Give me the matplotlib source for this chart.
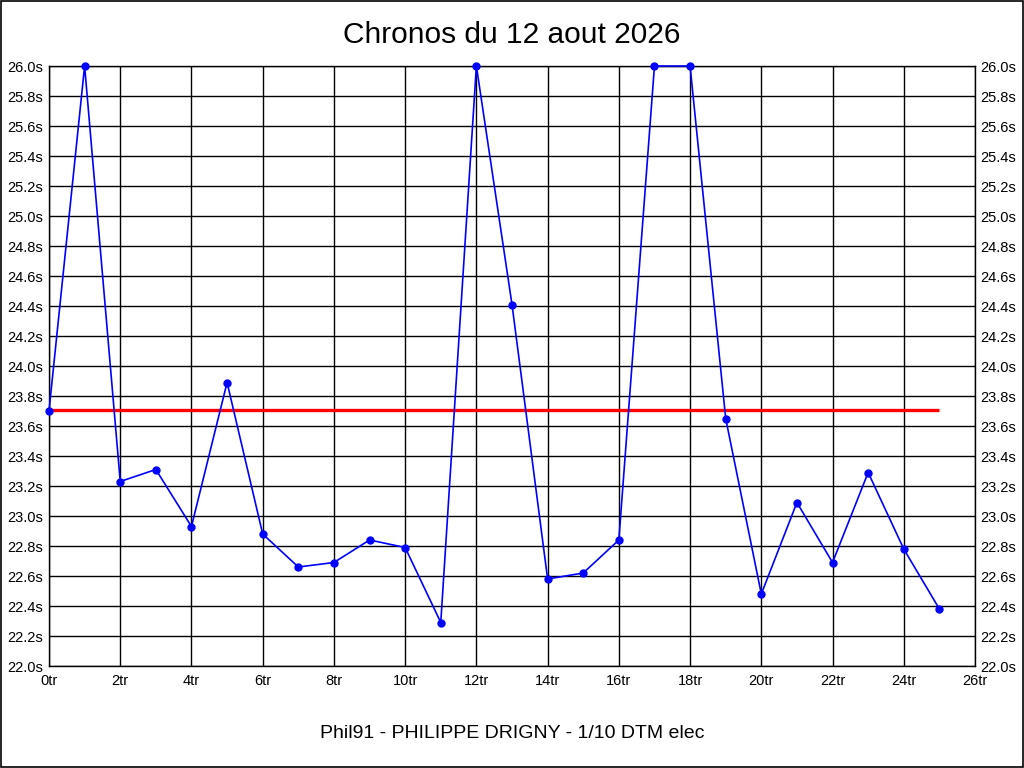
import matplotlib
matplotlib.use("Agg")
import matplotlib.pyplot as plt
from matplotlib.patches import Rectangle

plt.rcParams['font.family'] = ['Liberation Sans', 'DejaVu Sans']

laps = list(range(26))
times = [23.70, 26.00, 23.23, 23.31, 22.93, 23.89, 22.88, 22.66, 22.69, 22.84,
         22.79, 22.29, 26.00, 24.41, 22.58, 22.62, 22.84, 26.00, 26.00, 23.65,
         22.48, 23.09, 22.69, 23.29, 22.78, 22.38]
mean_x = [0, 25]
mean_y = [23.71, 23.71]
title = "Chronos du 12 aout 2026"
footer = "Phil91 - PHILIPPE DRIGNY - 1/10 DTM elec"

fig = plt.figure(figsize=(10.24, 7.68), dpi=100)
ax = fig.add_axes([49/1024, (768-666)/768, 926/1024, 600/768])

ax.plot(mean_x, mean_y, color='#ff0000', lw=2.4, zorder=3, solid_capstyle='butt')
ax.plot(laps, times, color='#0000ff', lw=1.2, marker='o', markersize=5,
        zorder=4, clip_on=False)

ax.set_xlim(0, 26)
ax.set_ylim(22.0, 26.0)
xt = list(range(0, 27, 2))
ax.set_xticks(xt)
ax.set_xticklabels([f"{v}tr" for v in xt])
yt = [22.0 + 0.2 * i for i in range(21)]
ax.set_yticks(yt)
ax.set_yticklabels([f"{v:.1f}s" for v in yt])
ax.tick_params(axis='both', length=0, labelsize=10.5, colors='#000000')
ax.tick_params(axis='x', pad=6)
ax.tick_params(axis='y', pad=4, right=True, labelright=True)
ax.grid(True, color='black', lw=1.0)
ax.set_axisbelow(True)
for s in ax.spines.values():
    s.set_color('black')
    s.set_linewidth(1.0)

fig.text(0.5, 1 - 35/768, title, ha='center', va='center', fontsize=21.5)
fig.text(0.5, 1 - 734/768, footer, ha='center', va='center', fontsize=14)

fig.patches.append(Rectangle((0.0005, 0.0007), 0.999, 0.9986, transform=fig.transFigure,
                             fill=False, edgecolor='black', lw=1.2))

fig.savefig("out.png", dpi=100)
